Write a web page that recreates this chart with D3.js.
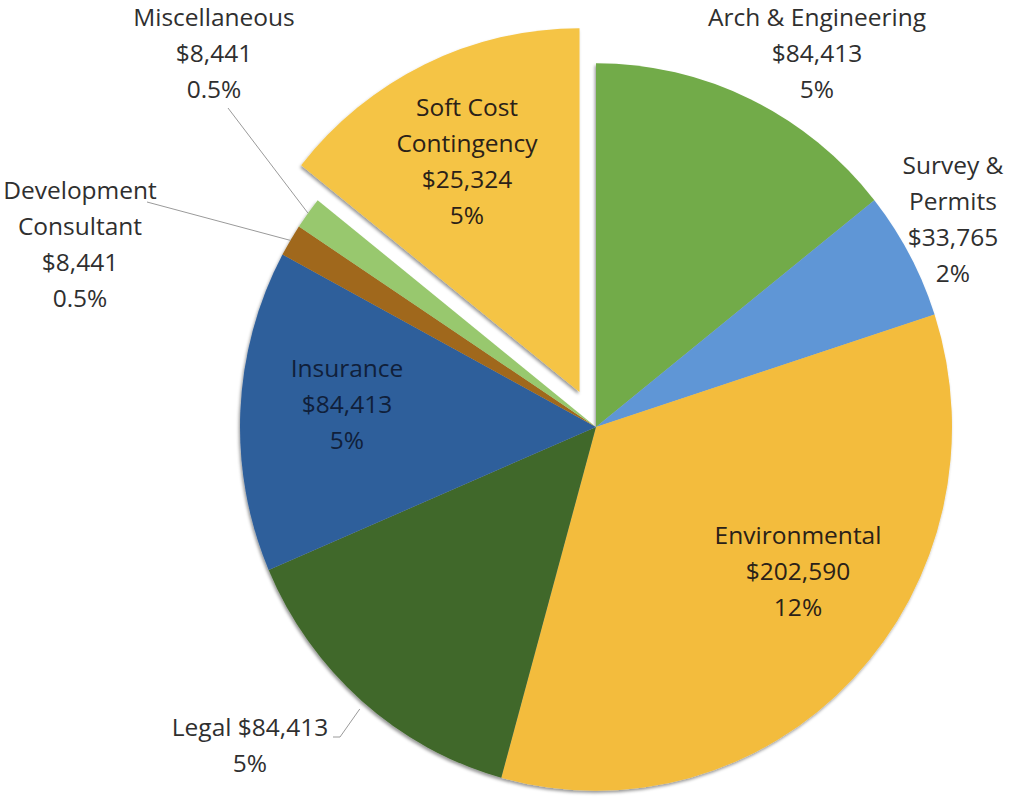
<!DOCTYPE html>
<html>
<head>
<meta charset="utf-8">
<script src="https://cdn.jsdelivr.net/npm/d3@7"></script>
<style>
  html, body { margin: 0; padding: 0; background: #fff; }
  svg { display: block; }
  text { font-family: "Open Sans", Lato, sans-serif; }
</style>
</head>
<body>
<div id="chart"></div>
<script>
// ---- data ----
const categories = ["Arch & Engineering", "Survey & Permits", "Environmental", "Legal",
                    "Insurance", "Development Consultant", "Miscellaneous", "Soft Cost Contingency"];
// slice sizes as drawn in the picture
const sliceValues = [84413, 33765, 202590, 84413, 84413, 8441, 8441, 84413];
// amounts and percentages printed in the labels
const labelAmounts = ["$84,413", "$33,765", "$202,590", "$84,413", "$84,413", "$8,441", "$8,441", "$25,324"];
const labelPercents = ["5%", "2%", "12%", "5%", "5%", "0.5%", "0.5%", "5%"];
const explodedSlices = ["Soft Cost Contingency"];

// ---- styles / layout ----
const W = 1009, H = 800;
const cx = 596, cy = 427;
const R = 356, yStretch = 1.022;
const explodeDist = 38;
const colors = ["#72AB48", "#5E96D6", "#F3BC3E", "#41672C", "#2E5F9B", "#A0681A", "#98C86E", "#F5C445"];

// label text lines & placement (offset of first line centre from pie centre)
const labelLayout = {
  "Arch & Engineering":     {lines: d => ["Arch & Engineering", d.amt, d.pct], dx: 221, dy: -410},
  "Survey & Permits":       {lines: d => ["Survey &", "Permits", d.amt, d.pct], dx: 357, dy: -262},
  "Environmental":          {lines: d => ["Environmental", d.amt, d.pct], dx: 202, dy: 108},
  "Legal":                  {lines: d => ["Legal " + d.amt, d.pct], dx: -346, dy: 300, leader: "elbow"},
  "Insurance":              {lines: d => ["Insurance", d.amt, d.pct], dx: -249, dy: -59},
  "Development Consultant": {lines: d => ["Development", "Consultant", d.amt, d.pct], dx: -516, dy: -237, leader: "dev"},
  "Miscellaneous":          {lines: d => ["Miscellaneous", d.amt, d.pct], dx: -382, dy: -410, leader: "misc"},
  "Soft Cost Contingency":  {lines: d => ["Soft Cost", "Contingency", d.amt, d.pct], dx: -129, dy: -320}
};
const lineGap = 36;
const fontSize = 24.5;

const svg = d3.select("#chart").append("svg")
  .attr("width", W).attr("height", H)
  .attr("viewBox", `0 0 ${W} ${H}`);

svg.append("rect").attr("width", W).attr("height", H).attr("fill", "#fff");

const defs = svg.append("defs");
const f = defs.append("filter").attr("id", "shadow")
  .attr("x", "-10%").attr("y", "-10%").attr("width", "120%").attr("height", "120%");
f.append("feDropShadow").attr("dx", -1.2).attr("dy", 2.2).attr("stdDeviation", 1.4)
  .attr("flood-color", "#000").attr("flood-opacity", 0.4);

const data = categories.map((c, i) => ({
  name: c, value: sliceValues[i], amt: labelAmounts[i], pct: labelPercents[i], color: colors[i]
}));

const pie = d3.pie().sort(null).value(d => d.value).startAngle(0).endAngle(2 * Math.PI);
const arcs = pie(data);
const arc = d3.arc().innerRadius(0).outerRadius(R);

const g = svg.append("g")
  .attr("transform", `translate(${cx},${cy}) scale(1,${yStretch})`)
  .attr("filter", "url(#shadow)");

function offsetOf(a) {
  if (!explodedSlices.includes(a.data.name)) return [0, 0];
  const m = (a.startAngle + a.endAngle) / 2;
  return [Math.sin(m) * explodeDist, -Math.cos(m) * explodeDist];
}

g.selectAll("path.slice").data(arcs).join("path")
  .attr("class", "slice")
  .attr("d", arc)
  .attr("fill", d => d.data.color)
  .attr("transform", d => { const o = offsetOf(d); return `translate(${o[0]},${o[1]})`; });

// edge point of slice at its mid angle, in page coordinates
function edgePoint(a, frac) {
  const m = (a.startAngle + a.endAngle) / 2;
  const o = offsetOf(a);
  return [cx + (Math.sin(m) * R * frac + o[0]),
          cy + (-Math.cos(m) * R * frac + o[1]) * yStretch];
}

// leader lines
const leaderG = svg.append("g").attr("fill", "none").attr("stroke", "#9a9a9a").attr("stroke-width", 1);
arcs.forEach(a => {
  const L = labelLayout[a.data.name];
  if (!L.leader) return;
  const e = edgePoint(a, 1.0);
  let pts;
  if (L.leader === "misc") pts = [[cx - 368, cy - 319], e];
  else if (L.leader === "dev") pts = [[cx - 449, cy - 225], e];
  else if (L.leader === "elbow") pts = [[cx - 263, cy + 310], [cx - 256, cy + 310], [e[0] - 2, e[1] + 8]];
  leaderG.append("path").attr("d", d3.line()(pts));
});

// labels
const labelG = svg.append("g").attr("font-size", fontSize).attr("text-anchor", "middle");
arcs.forEach(a => {
  const L = labelLayout[a.data.name];
  const lines = L.lines(a.data);
  const t = labelG.append("text")
    .attr("fill", a.data.name === "Soft Cost Contingency" || a.data.name === "Environmental" ? "#2a2118" :
                  a.data.name === "Insurance" ? "#10203a" : "#2f2f2f");
  lines.forEach((s, i) => {
    t.append("tspan")
      .attr("x", cx + L.dx)
      .attr("y", cy + L.dy + i * lineGap)
      .attr("dy", "0.35em")
      .text(s);
  });
});
</script>
</body>
</html>
